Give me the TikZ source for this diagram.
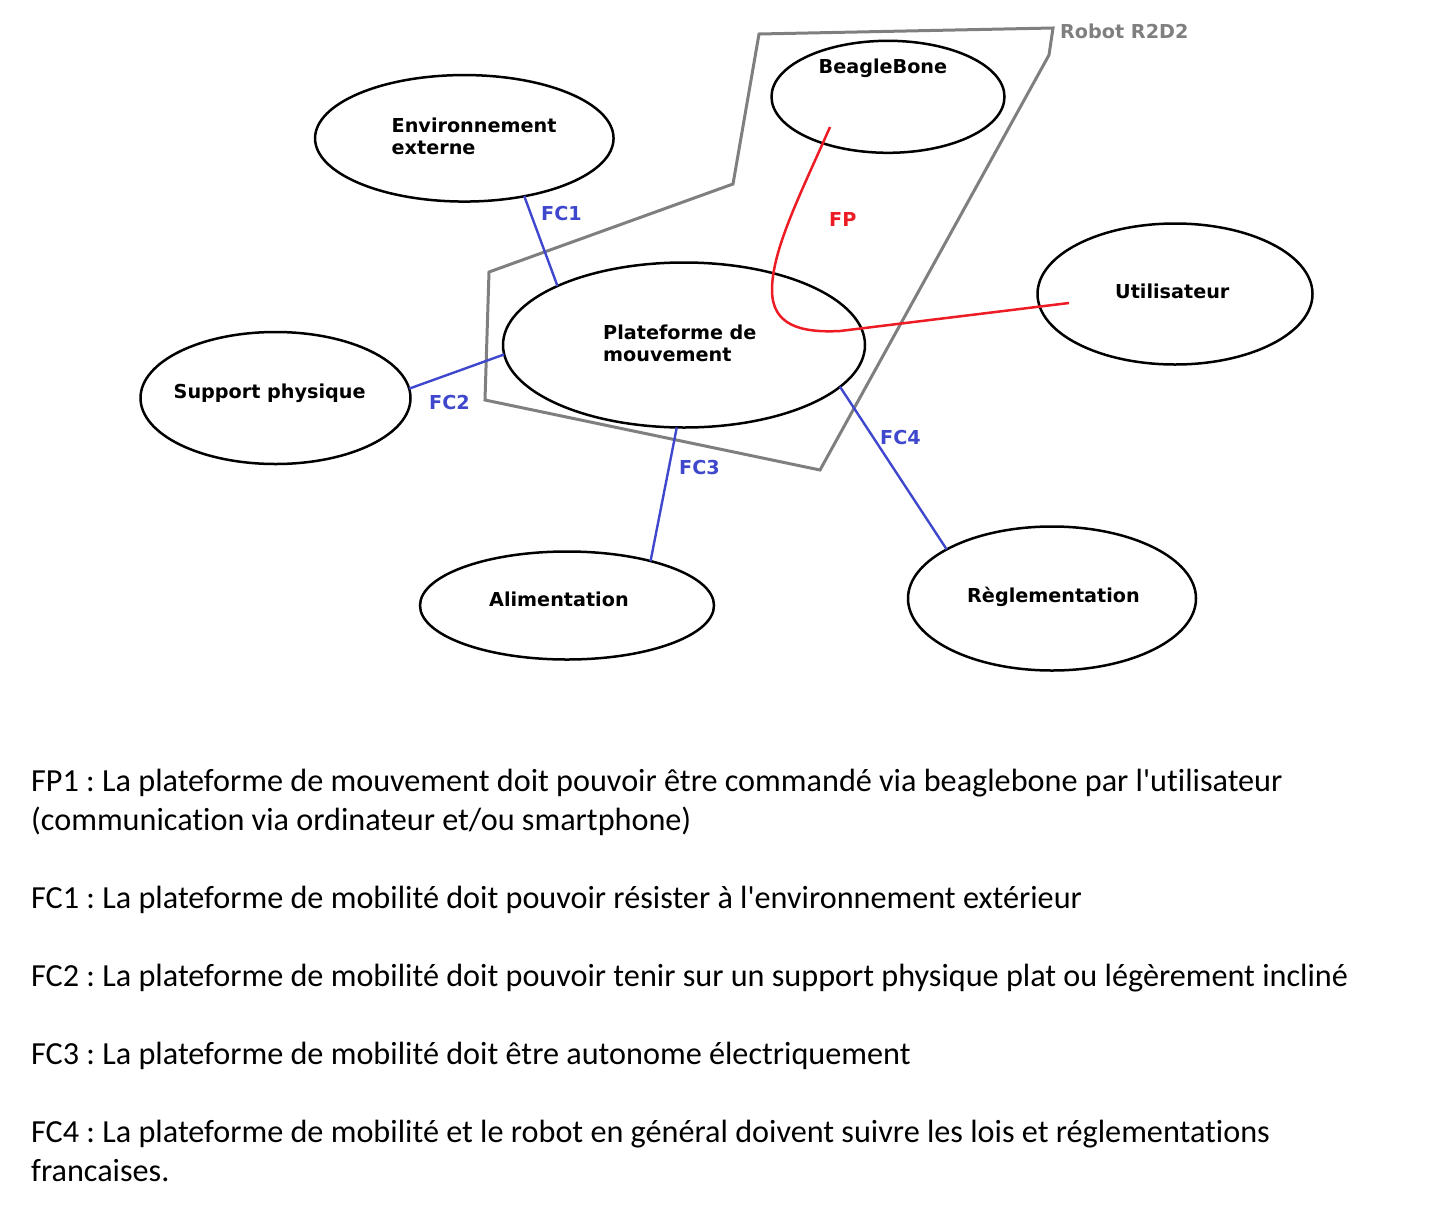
\documentclass[tikz,border=0pt]{standalone}
\usepackage{fontspec}
\setmainfont{Carlito}[Ligatures=NoCommon]
\newfontfamily\blocfont{DejaVu Sans}
\usetikzlibrary{shapes.geometric}
\definecolor{fcblue}{RGB}{63,72,204}
\definecolor{fpred}{RGB}{237,28,36}
\definecolor{robotgrey}{RGB}{127,127,127}
\frenchspacing
\tikzset{
  bloc/.style={ellipse, draw=black, line width=2.5pt, inner sep=0pt, outer sep=0pt},
  bloctext/.style={font=\blocfont\bfseries\fontsize{19.2}{22}\selectfont, align=left, inner sep=0pt, anchor=base west},
  fc/.style={draw=fcblue, line width=2.4pt},
  fclabel/.style={bloctext, text=fcblue},
  desc/.style={font=\fontsize{32.2}{39}\selectfont, inner sep=0pt, anchor=base west}
}
\begin{document}
\begin{tikzpicture}[x=1pt, y=-1pt]
  \useasboundingbox (0,0) rectangle (1446,1208);
  % robot boundary
  \draw[robotgrey, line width=3pt, line join=miter]
    (759,34) -- (1053,28) -- (1049,55) -- (820,470) -- (485,400)
    -- (489,272) -- (733,184) -- cycle;
  \node[bloctext, text=robotgrey] (robot) at (1060,38.3) {Robot R2D2};
  % blocs
  \node[bloc, minimum width=298.5pt, minimum height=126.5pt] (env) at (464.3,138.3) {};
  \node[bloc, minimum width=233pt, minimum height=112pt] (beagle) at (888,96.8) {};
  \node[bloc, minimum width=362pt, minimum height=165pt] (plat) at (684,345) {};
  \node[bloc, minimum width=275pt, minimum height=141pt] (util) at (1175,294) {};
  \node[bloc, minimum width=270pt, minimum height=132pt] (support) at (275.5,398) {};
  \node[bloc, minimum width=294pt, minimum height=108pt] (alim) at (567,605.5) {};
  \node[bloc, minimum width=288pt, minimum height=144pt] (regl) at (1052,598.5) {};
  \node[bloctext] (envtext) at (391.5,154.3) {Environnement\\externe};
  \node[bloctext] (beagletext) at (818.5,73.3) {BeagleBone};
  \node[bloctext] (plattext) at (603,361.7) {Plateforme de\\mouvement};
  \node[bloctext] (utiltext) at (1115,298.3) {Utilisateur};
  \node[bloctext] (supporttext) at (173.5,398) {Support physique};
  \node[bloctext] (alimtext) at (489,606.7) {Alimentation};
  \node[bloctext] (regltext) at (967,602.7) {Règlementation};
  % fonction principale
  \coordinate (fpstart) at (830,127);
  \coordinate (fpend) at (1069,303);
  \draw[fpred, line width=2.5pt] (fpstart) .. controls (800,195) and (772,250) .. (772,290)
    .. controls (772,325) and (800,333) .. (840,331) -- (fpend);
  \node[bloctext, text=fpred] (fp) at (829,226.7) {FP};
  % fonctions contraintes
  \begin{scope}[fc]
    \draw (env.-44.5) -- (plat.155.4);
    \draw (support.4.7) -- (plat.183.8);
    \draw (plat.265.2) -- (alim.28.7);
    \draw (plat.-15.5) -- (regl.155);
  \end{scope}
  \node[fclabel] (fc1) at (541,220.7) {FC1};
  \node[fclabel] (fc2) at (429,409) {FC2};
  \node[fclabel] (fc3) at (679,474) {FC3};
  \node[fclabel] (fc4) at (880,444) {FC4};
  % description
  \node[desc] (fp1a) at (31,791) {FP1 : La plateforme de mouvement doit pouvoir être commandé via beaglebone par l\textquotesingle utilisateur};
  \node[desc] (fp1b) at (31,830) {(communication via ordinateur et/ou smartphone)};
  \node[desc] (fc1t) at (31,908) {FC1 : La plateforme de mobilité doit pouvoir résister à l\textquotesingle environnement extérieur};
  \node[desc] (fc2t) at (31,986) {FC2 : La plateforme de mobilité doit pouvoir tenir sur un support physique plat ou légèrement incliné};
  \node[desc] (fc3t) at (31,1064) {FC3 : La plateforme de mobilité doit être autonome électriquement};
  \node[desc] (fc4a) at (31,1142) {FC4 : La plateforme de mobilité et le robot en général doivent suivre les lois et réglementations};
  \node[desc] (fc4b) at (31,1181) {francaises.};
\end{tikzpicture}
\end{document}
